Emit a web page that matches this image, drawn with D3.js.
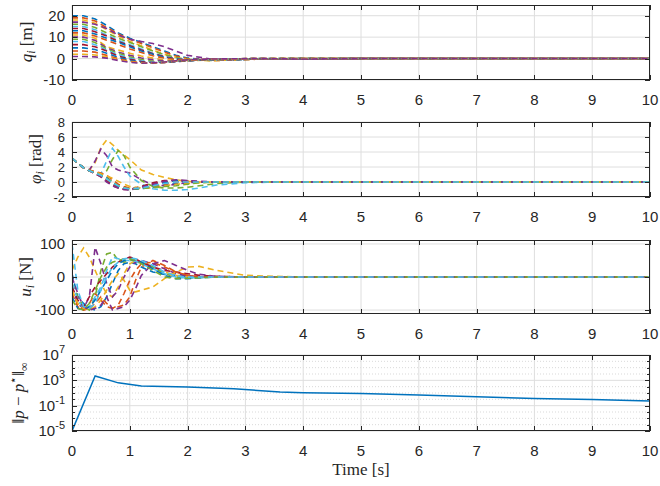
<!DOCTYPE html>
<html>
<head>
<meta charset="utf-8">
<script src="https://cdn.jsdelivr.net/npm/d3@7"></script>
<style>
  body { margin: 0; background: #fff; }
  svg { display: block; }
  .tick-label { font-family: "Liberation Sans", Arial, sans-serif; font-size: 15px; fill: #262626; }
  .tick-label.tight { font-size: 13px; }
  .axis-label { font-family: "Liberation Serif", "DejaVu Serif", serif; font-size: 17px; fill: #262626; }
</style>
</head>
<body>
<svg class="svg-main" width="660" height="486"></svg>
<script>
// MATLAB default colour order
const colors = ["#0072BD", "#D95319", "#EDB120", "#7E2F8E", "#77AC30", "#4DBEEE", "#A2142F"];

const timeTicks = [0, 1, 2, 3, 4, 5, 6, 7, 8, 9, 10];

// q_i [m]
const qTime = [0, 0.2, 0.4, 0.6, 0.8, 1.0, 1.2, 1.4, 1.6, 1.8, 2.0, 2.4, 2.8, 3.2, 4, 5, 10];
const qSeries = [
  [20, 20, 18.5, 15.5, 12, 9.5, 7.5, 5.5, 3.5, 1.5, 0.3, -0.8, -0.6, -0.3, -0.1, 0, 0],
  [19, 19, 17.5, 14.5, 11.5, 9, 7, 5, 3, 1.2, 0, -0.9, -0.7, -0.3, -0.1, 0, 0],
  [18, 18, 16.5, 13.5, 10.5, 8, 6, 4, 2, 0.5, -0.4, -1, -0.6, -0.3, 0, 0, 0],
  [17, 17, 16, 14, 11, 9, 8, 7, 5.5, 3.5, 1.5, -0.2, -0.5, -0.2, 0, 0, 0],
  [16, 16, 14.5, 12, 9.5, 7.5, 5.5, 3.5, 1.8, 0.5, -0.4, -0.9, -0.5, -0.2, -0.3, 0, 0],
  [15, 15, 13.5, 11, 8.5, 6.5, 4.5, 2.5, 1, 0, -0.6, -0.8, -0.5, -0.2, 0, 0, 0],
  [14, 14, 12.5, 10.5, 8, 6, 4, 2.3, 0.9, -0.2, -0.7, -0.8, -0.4, -0.2, -0.2, 0, 0],
  [13, 13, 11.5, 9.5, 7.5, 5.5, 3.5, 2, 0.6, -0.3, -0.8, -0.7, -0.4, -0.1, 0, 0, 0],
  [12, 12, 10.5, 8.5, 6.5, 4.5, 2.8, 1.3, 0.2, -0.5, -0.8, -0.7, -0.4, -0.1, 0, 0, 0],
  [11, 11, 9.5, 5.5, 4, 2.5, 1.2, 0.2, -0.6, -1, -1, -0.6, -0.3, -0.1, 0, 0, 0],
  [10, 10, 8.5, 5, 3, 1.5, 0.3, -0.6, -1.1, -1.2, -1, -0.5, -0.3, -0.1, -0.3, 0, 0],
  [9, 9, 7.5, 4.5, 2.5, 0.8, -0.5, -1.3, -1.5, -1.3, -1, -0.5, -0.2, 0, 0, 0, 0],
  [8, 8, 6.5, 4, 1.8, 0.2, -1, -1.6, -1.7, -1.4, -1, -0.5, -0.2, 0, 0, 0, 0],
  [6.5, 6.5, 5.5, 3.5, 1.2, -0.3, -1.4, -1.9, -1.8, -1.4, -1, -0.4, -0.2, 0, 0, 0, 0],
  [5, 5, 4.2, 2.5, 0.6, -0.8, -1.7, -2, -1.8, -1.3, -0.9, -0.4, -0.1, 0, 0, 0, 0],
  [3.5, 3.5, 3, 1.5, 0, -1.2, -1.9, -2.1, -1.8, -1.2, -0.8, -0.3, -0.1, 0, 0, 0, 0],
  [2, 2, 1.7, 0.8, -0.5, -1.5, -2.1, -2.1, -1.7, -1.1, -0.7, -0.3, -0.1, 0, 0, 0, 0],
  [1, 1, 0.8, 0.2, -0.9, -1.8, -2.2, -2, -1.6, -1, -0.6, -0.2, -0.1, 0, -0.2, 0, 0]
];
const qTicks = [-10, 0, 10, 20];

// phi_i [rad]
const phiTime = [0, 0.1, 0.2, 0.3, 0.4, 0.5, 0.6, 0.7, 0.8, 0.9, 1.0, 1.2, 1.4, 1.6, 1.8, 2.0, 2.2, 2.5, 3, 3.5, 4, 5, 10];
const phiSeries = [
  [3.2, 2.5, 1.9, 1.5, 1.3, 1.0, 0.5, -0.2, -0.6, -0.9, -1.0, -0.9, -0.7, -0.4, -0.2, -0.1, 0, 0, 0, 0, 0, 0, 0],
  [3.2, 2.5, 1.9, 1.5, 1.2, 0.8, 0.2, -0.4, -0.7, -0.9, -1.0, -0.6, -0.2, 0, 0.2, 0.1, 0, 0, 0, 0, 0, 0, 0],
  [3.2, 2.5, 1.9, 1.6, 2.6, 4.6, 5.6, 5.0, 4.2, 3.6, 3.0, 1.6, 1.0, 0.6, 0.3, 0.1, 0, 0, 0, 0, 0, 0, 0],
  [3.2, 2.5, 1.9, 1.6, 2.8, 4.4, 3.5, 2.0, 1.6, 1.4, 1.2, 0.3, -0.4, -0.5, -0.3, -0.1, 0, 0, 0, 0, 0, 0, 0],
  [3.2, 2.5, 1.9, 1.5, 1.3, 1.0, 1.5, 3.0, 4.2, 3.5, 2.0, 0.2, -0.6, -0.8, -0.8, -0.7, -0.5, -0.2, 0, 0, 0, 0, 0],
  [3.2, 2.5, 1.9, 1.5, 1.3, 1.1, 2.8, 4.5, 3.4, 2.0, 0.8, -0.3, -0.9, -1.1, -1.1, -1.0, -0.8, -0.4, -0.1, 0, 0, 0, 0],
  [3.2, 2.5, 1.9, 1.5, 1.1, 0.7, 0.1, -0.5, -0.8, -1.0, -1.0, -0.6, -0.1, 0.2, 0.2, 0.1, 0, 0, 0, 0, 0, 0, 0],
  [3.2, 2.5, 1.9, 1.5, 1.2, 0.9, 0.6, 0.0, -0.6, -0.9, -1.0, -0.8, -0.5, -0.1, 0.2, 0.1, 0, 0, 0, 0, 0, 0, 0],
  [3.2, 2.5, 1.9, 1.6, 1.4, 1.2, 0.9, 0.3, -0.3, -0.6, -0.8, -0.8, -0.6, -0.3, 0, 0.1, 0, 0, 0, 0, 0, 0, 0],
  [3.2, 2.5, 1.9, 1.5, 1.3, 1.1, 0.8, 0.5, 0.1, -0.3, -0.6, -0.8, -0.8, -0.5, -0.3, -0.2, -0.1, 0, 0, 0, 0, 0, 0],
  [3.2, 2.5, 1.9, 1.5, 1.1, 0.7, 0, -0.5, -0.8, -1.0, -1.1, -0.7, -0.3, 0.1, 0.3, 0.2, 0.1, 0, 0, 0, 0, 0, 0],
  [3.2, 2.5, 1.9, 1.5, 1.2, 0.9, 0.5, 0, -0.5, -0.8, -0.9, -0.9, -0.7, -0.6, -0.5, -0.3, -0.1, 0, 0, 0, 0, 0, 0],
  [3.2, 2.5, 1.9, 1.5, 1.2, 0.9, 0.4, -0.1, -0.5, -0.8, -0.9, -0.8, -0.5, -0.2, 0, 0, 0, 0, 0, 0, 0, 0, 0]
];
const phiTicks = [-2, 0, 2, 4, 6, 8];

// u_i [N]
const uTime = [0, 0.1, 0.2, 0.3, 0.4, 0.5, 0.6, 0.7, 0.8, 0.9, 1.0, 1.1, 1.2, 1.4, 1.6, 1.8, 2.0, 2.2, 2.5, 3, 3.5, 4, 5, 10];
const uSeries = [
  [10, -60, -80, -95, -100, -90, -60, -20, 20, 40, 45, 40, 30, 15, 8, 5, 2, 0, 0, 0, 0, 0, 0, 0],
  [-50, -90, -100, -80, -50, -70, -90, -95, -90, -85, -60, -10, 30, 50, 35, 15, 5, 0, 0, 0, 0, 0, 0, 0],
  [20, 60, 88, 60, 20, -20, -50, -60, -30, 10, 40, 50, 45, 30, 15, 5, 2, 0, 0, 0, 0, 0, 0, 0],
  [-30, -80, -95, -60, 90, 40, -20, -60, -40, 0, 30, 45, 50, 40, 25, 10, 3, 0, 0, 0, 0, 0, 0, 0],
  [-20, -60, -90, -100, -60, 20, 70, 75, 50, 45, 50, 50, 45, 30, 10, 0, -3, -2, 0, 0, 0, 0, 0, 0],
  [-20, -70, -95, -90, -60, -30, 20, 60, 55, 50, 50, 48, 40, 25, 10, 0, -3, -2, 0, 0, 0, 0, 0, 0],
  [-30, -70, -90, -60, -30, -10, 10, 30, 45, 55, 60, 55, 45, 30, 20, 15, 10, 5, 2, 0, 0, 0, 0, 0],
  [-60, -95, -100, -90, -70, -40, -10, 20, 40, 50, 55, 50, 45, 25, 5, -5, -5, -2, 0, 0, 0, 0, 0, 0],
  [-40, -85, -100, -95, -80, -60, -80, -95, -85, -50, -10, 20, 40, 45, 30, 15, 5, 0, 0, 0, 0, 0, 0, 0],
  [-40, -80, -95, -100, -90, -70, -40, -10, 10, -10, -40, -45, -40, -30, -5, 15, 30, 32, 20, 5, 2, 0, 0, 0],
  [0, -50, -90, -100, -95, -85, -60, -100, -95, -90, -70, -35, 5, 40, 50, 35, 20, 8, 2, 0, 0, 0, 0, 0],
  [-70, -95, -100, -80, -40, 0, 30, 45, 50, 55, 55, 50, 40, 20, 0, -5, -4, -2, 0, 0, 0, 0, 0, 0],
  [100, -40, -90, -95, -80, -40, 0, 30, 45, 55, 58, 55, 50, 35, 15, 3, 0, 0, 0, 0, 0, 0, 0, 0]
];
const uTicks = [-100, 0, 100];

// ||p - p*||_inf
const errTime = [0, 0.4, 0.8, 1.2, 2.0, 2.8, 3.6, 4.0, 5, 6, 7, 8, 9, 10];
const errValues = [1e-5, 5000, 400, 130, 90, 45, 15, 11, 8, 5, 2.5, 1.4, 0.9, 0.55];
const errTicks = [-5, -1, 3, 7];
const errDecades = [-5, -4, -3, -2, -1, 0, 1, 2, 3, 4, 5, 6, 7];

const svg = d3.select(".svg-main");
const left = 72;
const right = 650;
const ink = "#262626";
const gridColor = "#dedede";

const x = d3.scaleLinear().domain([0, 10]).range([left, right]);

const panels = [
  { id: "q", top: 5, bottom: 80, y: d3.scaleLinear().domain([-10, 25]), ticks: qTicks },
  { id: "phi", top: 122, bottom: 197, y: d3.scaleLinear().domain([-2, 8]), ticks: phiTicks, tight: true },
  { id: "u", top: 240, bottom: 314, y: d3.scaleLinear().domain([-112, 112]), ticks: uTicks },
  { id: "err", top: 355, bottom: 431, y: d3.scaleLog().domain([1e-5, 1e7]), ticks: errTicks.map(e => 10 ** e), log: true }
];

panels.forEach(p => p.y.range([p.bottom, p.top]));

const drawPanel = (p) => {
  const g = svg.append("g").attr("class", `panel-${p.id}`);

  g.append("clipPath").attr("id", `clip-${p.id}`)
    .append("rect")
      .attr("x", left).attr("y", p.top)
      .attr("width", right - left).attr("height", p.bottom - p.top);

  // minor grid (log panel only)
  if (p.log) {
    g.append("g").selectAll("line")
      .data(errDecades.filter(e => !errTicks.includes(e)))
      .enter().append("line")
        .attr("x1", left).attr("x2", right)
        .attr("y1", e => p.y(10 ** e)).attr("y2", e => p.y(10 ** e))
        .attr("stroke", "#cfcfcf")
        .attr("stroke-width", 0.8)
        .attr("stroke-dasharray", "1,2");
  }

  // major grid
  g.append("g").selectAll("line")
    .data(timeTicks)
    .enter().append("line")
      .attr("x1", d => x(d)).attr("x2", d => x(d))
      .attr("y1", p.top).attr("y2", p.bottom)
      .attr("stroke", gridColor);
  g.append("g").selectAll("line")
    .data(p.ticks)
    .enter().append("line")
      .attr("x1", left).attr("x2", right)
      .attr("y1", d => p.y(d)).attr("y2", d => p.y(d))
      .attr("stroke", gridColor);

  return g;
};

const drawFrame = (p, g) => {
  const tickLen = 5;
  const frame = g.append("g").attr("stroke", ink).attr("fill", "none");

  frame.append("rect")
    .attr("x", left + 0.5).attr("y", p.top + 0.5)
    .attr("width", right - left - 1).attr("height", p.bottom - p.top - 1)
    .attr("stroke-width", 1);

  timeTicks.forEach(t => {
    const xx = Math.round(x(t)) + 0.5;
    frame.append("line").attr("x1", xx).attr("x2", xx).attr("y1", p.bottom).attr("y2", p.bottom - tickLen);
    frame.append("line").attr("x1", xx).attr("x2", xx).attr("y1", p.top).attr("y2", p.top + tickLen);
  });

  const yTickValues = p.log ? errDecades.map(e => 10 ** e) : p.ticks;
  yTickValues.forEach(v => {
    const yy = Math.round(p.y(v)) + 0.5;
    const len = p.log && !p.ticks.includes(v) ? 3 : tickLen;
    frame.append("line").attr("x1", left).attr("x2", left + len).attr("y1", yy).attr("y2", yy);
    frame.append("line").attr("x1", right).attr("x2", right - len).attr("y1", yy).attr("y2", yy);
  });

  // x tick labels
  g.append("g").selectAll("text")
    .data(timeTicks)
    .enter().append("text")
      .attr("class", "tick-label")
      .attr("x", d => x(d))
      .attr("y", p.bottom + 25)
      .attr("text-anchor", "middle")
      .text(d => d);

  // y tick labels
  const yl = g.append("g").selectAll("text")
    .data(p.log ? errTicks : p.ticks)
    .enter().append("text")
      .attr("class", p.tight ? "tick-label tight" : "tick-label")
      .attr("x", left - 7)
      .attr("y", d => (p.log ? p.y(10 ** d) : p.y(d)) + (p.tight ? 4.5 : 5))
      .attr("text-anchor", "end");
  if (p.log) {
    yl.text("10")
      .append("tspan")
        .attr("dy", -7)
        .attr("font-size", 11)
        .text(d => d);
  } else {
    yl.text(d => d);
  }
};

const drawSeries = (g, p, time, series, dashed) => {
  const line = d3.line()
    .x((d, i) => x(time[i]))
    .y(d => p.y(d));
  g.append("g")
    .attr("clip-path", `url(#clip-${p.id})`)
    .selectAll("path")
    .data(series)
    .enter().append("path")
      .attr("d", d => line(d))
      .attr("fill", "none")
      .attr("stroke", (d, i) => colors[i % colors.length])
      .attr("stroke-width", dashed ? 1.6 : 1.5)
      .attr("stroke-dasharray", dashed ? "6,4" : null);
};

const [pq, pphi, pu, perr] = panels;
const gq = drawPanel(pq);
drawSeries(gq, pq, qTime, qSeries, true);
drawFrame(pq, gq);

const gphi = drawPanel(pphi);
drawSeries(gphi, pphi, phiTime, phiSeries, true);
drawFrame(pphi, gphi);

const gu = drawPanel(pu);
drawSeries(gu, pu, uTime, uSeries, true);
drawFrame(pu, gu);

const gerr = drawPanel(perr);
drawSeries(gerr, perr, errTime, [errValues], false);
drawFrame(perr, gerr);

// y labels
const ylabel = (cx, cy) => svg.append("text")
  .attr("class", "axis-label")
  .attr("text-anchor", "middle")
  .attr("transform", `translate(${cx},${cy}) rotate(-90)`);

const lq = ylabel(32, 42);
lq.append("tspan").attr("font-style", "italic").text("q");
lq.append("tspan").attr("font-style", "italic").attr("font-size", 12).attr("dy", 3).text("i");
lq.append("tspan").attr("dy", -3).text(" [m]");

const lphi = ylabel(41, 159);
lphi.append("tspan").attr("font-style", "italic").text("φ");
lphi.append("tspan").attr("font-style", "italic").attr("font-size", 12).attr("dy", 3).text("i");
lphi.append("tspan").attr("dy", -3).text(" [rad]");

const lu = ylabel(31, 277);
lu.append("tspan").attr("font-style", "italic").text("u");
lu.append("tspan").attr("font-style", "italic").attr("font-size", 12).attr("dy", 3).text("i");
lu.append("tspan").attr("dy", -3).text(" [N]");

const lerr = ylabel(24, 393);
lerr.append("tspan").text("‖");
lerr.append("tspan").attr("font-style", "italic").text("p");
lerr.append("tspan").text(" − ");
lerr.append("tspan").attr("font-style", "italic").text("p");
lerr.append("tspan").attr("font-size", 12).attr("dy", -7).text("⋆");
lerr.append("tspan").attr("dy", 7).text("‖");
lerr.append("tspan").attr("font-size", 12).attr("dy", 4).text("∞");

svg.append("text")
  .attr("class", "axis-label")
  .attr("x", (left + right) / 2)
  .attr("y", 475)
  .attr("text-anchor", "middle")
  .text("Time [s]");
</script>
</body>
</html>
